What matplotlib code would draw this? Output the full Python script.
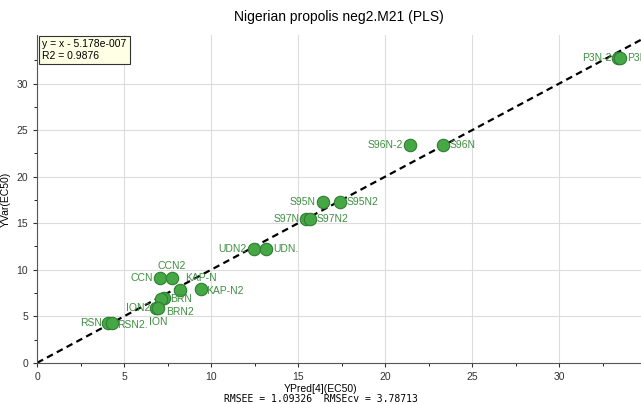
import matplotlib.pyplot as plt
import numpy as np

plt.rcParams['font.family'] = ['Liberation Sans', 'DejaVu Sans']

# observed vs predicted EC50
names = ["P3N-2", "P3N", "S96N-2", "S96N", "S95N", "S95N2", "S97N", "S97N2",
         "UDN2", "UDN.", "CCN", "CCN2", "KAP-N", "KAP-N2", "BRN", "BRN2",
         "ION2", "ION", "RSN", "RSN2."]
ypred = [33.4, 33.5, 21.4, 23.3, 16.4, 17.4, 15.45, 15.65,
         12.45, 13.15, 7.05, 7.75, 8.2, 9.4, 7.3, 7.1,
         6.8, 6.95, 4.05, 4.3]
yvar = [32.7, 32.7, 23.4, 23.4, 17.3, 17.3, 15.5, 15.5,
        12.2, 12.2, 9.1, 9.1, 7.8, 7.9, 6.95, 6.85,
        5.9, 5.9, 4.25, 4.25]

# label placement: (dx, dy) in points, horizontal alignment
offsets = {
    "P3N-2": (-5, 0, "right"), "P3N": (5, 0, "left"),
    "S96N-2": (-5, 0, "right"), "S96N": (5, 0, "left"),
    "S95N": (-5, 0, "right"), "S95N2": (5, 0, "left"),
    "S97N": (-5, 0, "right"), "S97N2": (5, 0, "left"),
    "UDN2": (-5, 0, "right"), "UDN.": (5, 0, "left"),
    "CCN": (-5, 0, "right"), "CCN2": (0, 9, "center"),
    "KAP-N": (4, 9, "left"), "KAP-N2": (4, -1, "left"),
    "BRN": (4, -1, "left"), "BRN2": (4, -9, "left"),
    "ION2": (-4, 0, "right"), "ION": (0, -10, "center"),
    "RSN": (-4, 0, "right"), "RSN2.": (4, -1, "left"),
}

green = "#3e8e41"
fig = plt.figure(figsize=(6.41, 4.04), dpi=100)
ax = fig.add_axes([0.058, 0.102, 0.942, 0.811])

ax.set_xlim(0, 34.7)
ax.set_ylim(0, 35.2)
line = np.array([0, 40])
ax.plot(line, line, color="black", ls=(0, (3, 2)), lw=1.6, zorder=2)
ax.scatter(ypred, yvar, s=80, color="#45a845", edgecolor="#2f7d32",
           linewidth=0.8, zorder=3)
for n, x, y in zip(names, ypred, yvar):
    dx, dy, ha = offsets[n]
    ax.annotate(n, (x, y), xytext=(dx, dy), textcoords="offset points",
                ha=ha, va="center", fontsize=7.5, color=green, zorder=4)

ax.set_xticks(np.arange(0, 35, 5))
ax.set_yticks(np.arange(0, 35, 5))
ax.set_xticks(np.arange(0, 35, 2.5), minor=True)
ax.set_yticks(np.arange(0, 35, 2.5), minor=True)
ax.tick_params(labelsize=7.5, colors="#333333", length=3)
ax.tick_params(which="minor", length=2)
ax.grid(True, color="#dcdcdc", lw=0.8)
ax.set_axisbelow(True)
for s in ("top", "right"):
    ax.spines[s].set_visible(False)
ax.spines["left"].set_color("#555555")
ax.spines["bottom"].set_color("#555555")

ax.set_title("Nigerian propolis neg2.M21 (PLS)", fontsize=10, pad=10)
fig.text(0.5, 0.025, "YPred[4](EC50)", ha="center", va="bottom",
         fontsize=7.5)
fig.text(0.5, 0.0, "RMSEE = 1.09326  RMSEcv = 3.78713", ha="center",
         va="bottom", fontsize=7, family="DejaVu Sans Mono")
ax.set_ylabel("YVar(EC50)", fontsize=7.5, labelpad=4)

ax.text(0.3, 33.6, "y = x - 5.178e-007\nR2 = 0.9876", fontsize=7.5,
        va="center", ha="left", linespacing=1.3,
        bbox=dict(boxstyle="square,pad=0.3", fc="#ffffe6", ec="#333333", lw=0.8),
        zorder=5)

fig.savefig("out.png", dpi=100)
